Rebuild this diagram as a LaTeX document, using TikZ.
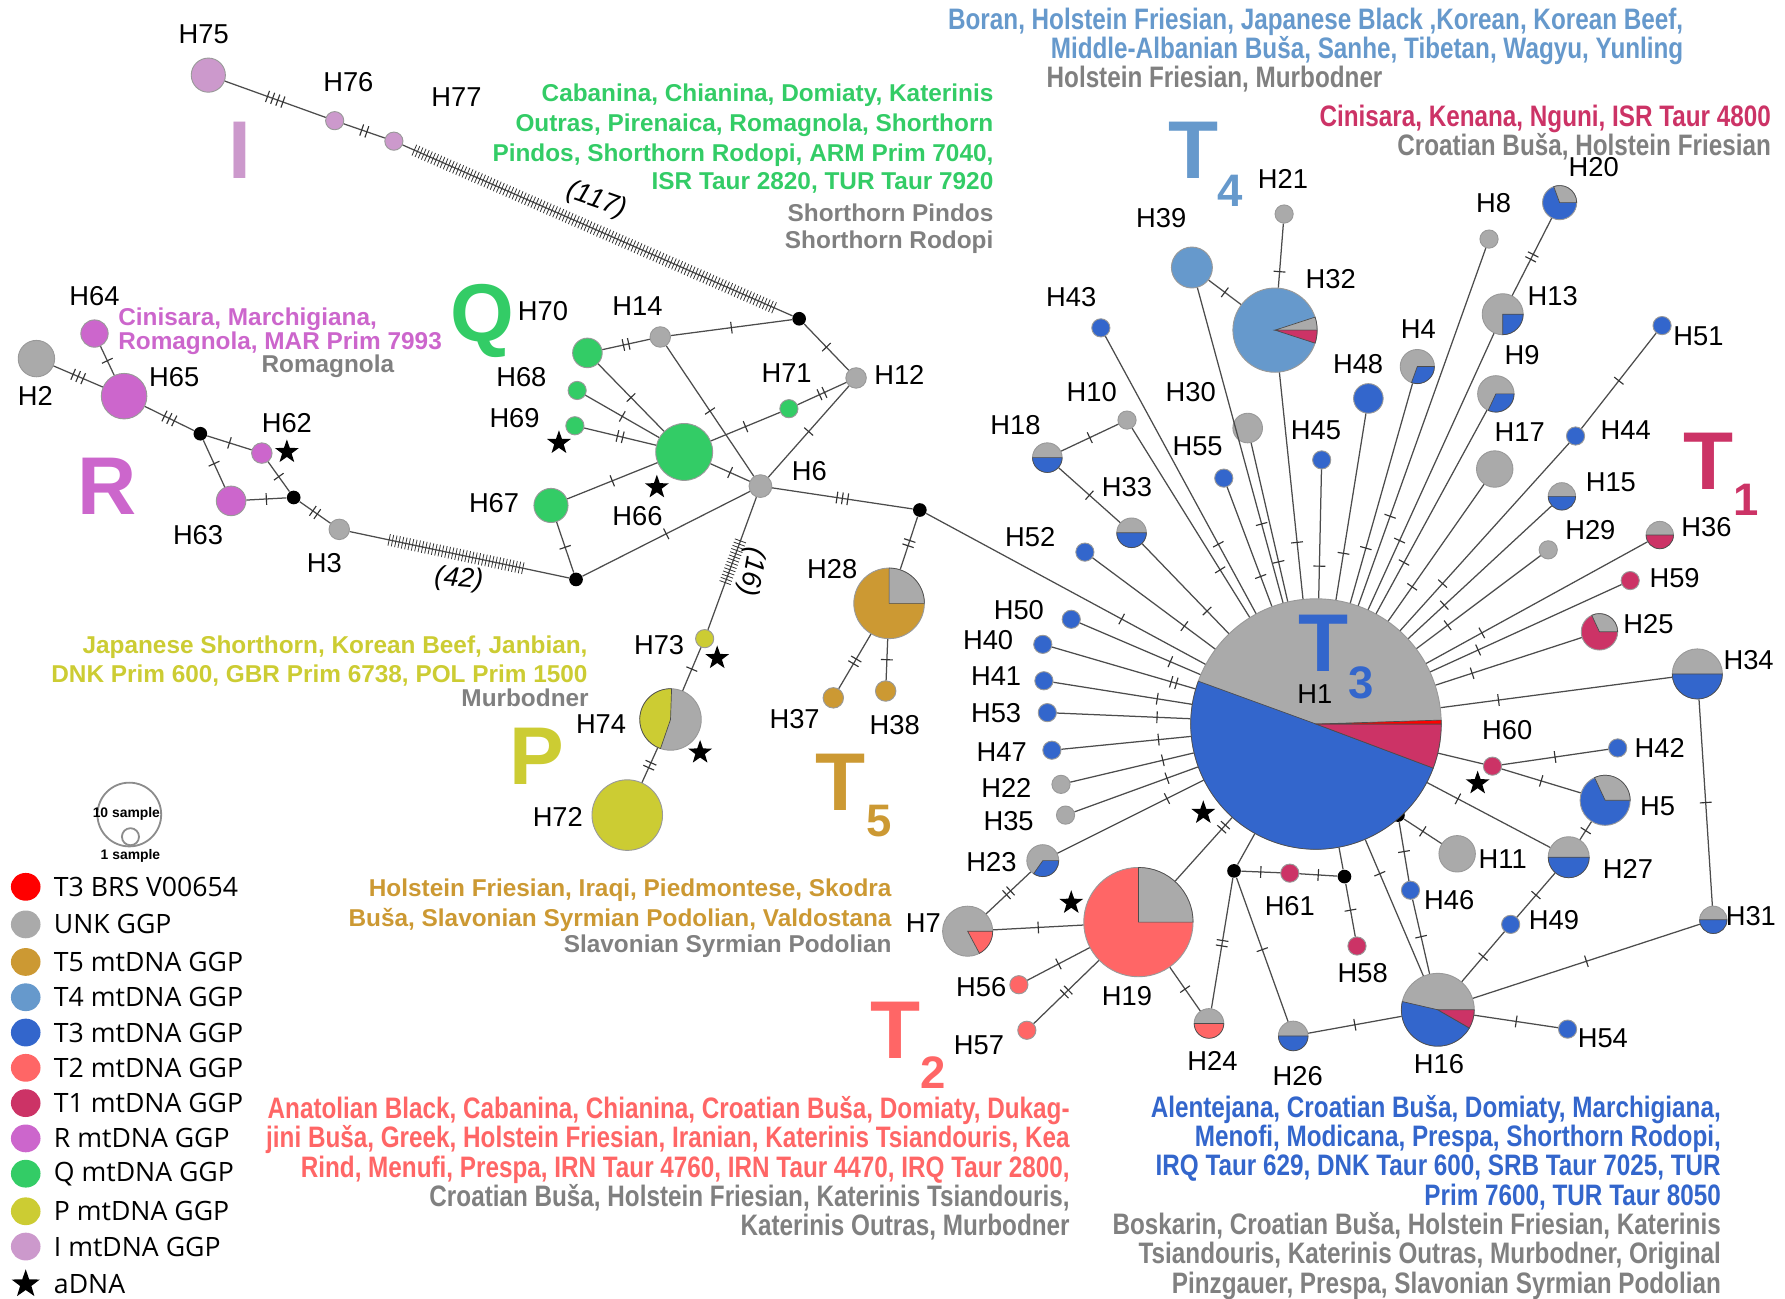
\documentclass[tikz,border=0pt]{standalone}
\usepackage{fontspec}
\setmainfont{Liberation Sans}
\newfontfamily\narrowfont{Liberation Sans}[FakeStretch=0.82]
\newfontfamily\legfont{Open Sans}
\usepackage{tikz}
\usetikzlibrary{shapes,arrows,positioning,decorations.markings}

\definecolor{unk}{HTML}{AAAAAA}
\definecolor{brs}{HTML}{FF0000}
\definecolor{tfive}{HTML}{CC9933}
\definecolor{tfour}{HTML}{6699CC}
\definecolor{tthree}{HTML}{3366CC}
\definecolor{ttwo}{HTML}{FF6666}
\definecolor{tone}{HTML}{CC3366}
\definecolor{hgR}{HTML}{CC66CC}
\definecolor{hgQ}{HTML}{33CC66}
\definecolor{hgP}{HTML}{CCCC33}
\definecolor{hgI}{HTML}{CC99CC}
\definecolor{txtgray}{HTML}{808080}

\tikzset{
  hap/.style={circle,draw=black!40,line width=.4pt,inner sep=0pt},
  med/.style={circle,fill=black,inner sep=0pt,minimum size=6pt},
  adna/.style={star,star points=5,star point ratio=2.5,fill=black,inner sep=0pt,minimum size=11pt},
  link/.style={draw=black!70,line width=.55pt},
  tk/.style 2 args={postaction={decorate,decoration={markings,
      mark=at position #2 with {\foreach \k in {1,...,#1}{\draw[line width=.5pt,black!80] ({(\k-(#1+1)/2)*2.4pt},-2.6pt) -- ++(0,5.2pt);}}}}},
  mut/.style={tk={#1}{.5}},
  mut/.default=1,
  hatch/.style 2 args={postaction={decorate,decoration={markings,
      mark=between positions #1 and #2 step 1.5pt with {\draw[line width=.35pt,black!80] (0,-2.6pt) -- (0,2.6pt);}}}},
  lbl/.style={inner sep=0pt,font=\fontsize{12}{12}\selectfont},
  gap/.style={inner sep=0pt,font=\itshape\fontsize{12}{12}\selectfont},
  grp/.style={inner sep=0pt,font=\bfseries\fontsize{36}{36}\selectfont},
  sub/.style={inner sep=0pt,font=\bfseries\fontsize{20}{20}\selectfont},
  brd/.style={inner sep=0pt,align=right,font=\bfseries\fontsize{10.7}{12.9}\selectfont},
  brdn/.style={inner sep=0pt,align=right,font=\narrowfont\bfseries\fontsize{13}{12.9}\selectfont},
  leg/.style={ellipse,inner sep=0pt,minimum width=13pt,minimum height=12.2pt},
  legtxt/.style={inner sep=0pt,anchor=west,font=\legfont\fontsize{11.7}{11.7}\selectfont},
}

\newcommand{\hp}[5]{\node (#1) [hap,fill=#5,minimum size=#4pt] at (#2,-#3) {};}
\newcommand{\pieslice}[5]{\fill[#5,draw=black!70,line width=.3pt] (#1.center) -- ++(#3:#2) arc[start angle=#3,end angle=#4,radius=#2] -- cycle;}
\newcommand{\lab}[3]{\node (l#1) [lbl] at (#2,-#3) {#1};}

\begin{document}
\begin{tikzpicture}[x=0.5pt,y=0.5pt]
  \useasboundingbox (0,0) rectangle (1568,-1141);

  % I
  \hp{H75}{183}{66}{15}{hgI}
  \hp{H76}{294}{106}{8}{hgI}
  \hp{H77}{346}{124}{8}{hgI}
  % R
  \hp{H64}{83}{293}{12}{hgR}
  \hp{H2}{32}{315}{16}{unk}
  \hp{H65}{109}{348}{20}{hgR}
  \node (d1) [med] at (176,-381) {};
  \hp{H62}{230}{398}{9}{hgR}
  \hp{H63}{203}{440}{13}{hgR}
  \node (d2) [med] at (258,-437) {};
  \hp{H3}{298}{465}{9}{unk}
  \node (d3) [med] at (506,-509) {};
  % Q
  \hp{H70}{516}{310}{13}{hgQ}
  \hp{H68}{507}{343}{8}{hgQ}
  \hp{H69}{505}{374}{8}{hgQ}
  \hp{H66}{601}{397}{25}{hgQ}
  \hp{H67}{484}{444}{15}{hgQ}
  \hp{H71}{693}{359}{8}{hgQ}
  \hp{H14}{580}{296}{9}{unk}
  \hp{H12}{752}{332}{9}{unk}
  \node (d4) [med] at (702,-280) {};
  \hp{H6}{668}{427}{10}{unk}
  \node (d5) [med] at (808,-448) {};
  % P
  \hp{H73}{619}{561}{8}{hgP}
  \hp{H74}{589}{632}{27}{unk}
  \hp{H72}{551}{716}{31}{hgP}
  % T5
  \hp{H28}{781}{530}{31}{tfive}
  \hp{H37}{732}{613}{9}{tfive}
  \hp{H38}{778}{607}{9}{tfive}
  % T1-T4
  \hp{H1}{1156}{636}{110}{unk}
  \hp{H43}{967}{288}{8}{tthree}
  \hp{H39}{1047}{235}{18}{tfour}
  \hp{H21}{1128}{188}{8}{unk}
  \hp{H32}{1120}{290}{37}{tfour}
  \hp{H10}{990}{369}{8}{unk}
  \hp{H18}{920}{402}{13}{unk}
  \hp{H30}{1096}{376}{13}{unk}
  \hp{H48}{1202}{350}{13}{tthree}
  \hp{H4}{1245}{322}{15}{unk}
  \hp{H8}{1308}{210}{8}{unk}
  \hp{H20}{1370}{178}{15}{tthree}
  \hp{H13}{1320}{276}{18}{unk}
  \hp{H9}{1314}{346}{16}{unk}
  \hp{H51}{1460}{286}{8}{tthree}
  \hp{H45}{1161}{404}{8}{tthree}
  \hp{H55}{1075}{420}{8}{tthree}
  \hp{H33}{994}{468}{13}{unk}
  \hp{H17}{1313}{412}{16}{unk}
  \hp{H44}{1384}{383}{8}{tthree}
  \hp{H15}{1372}{436}{12}{unk}
  \hp{H29}{1360}{483}{8}{unk}
  \hp{H36}{1458}{470}{12}{unk}
  \hp{H52}{953}{485}{8}{tthree}
  \hp{H59}{1432}{510}{8}{tone}
  \hp{H25}{1405}{555}{16}{tone}
  \hp{H34}{1491}{592}{22}{unk}
  \hp{H50}{941}{544}{8}{tthree}
  \hp{H40}{916}{566}{8}{tthree}
  \hp{H41}{917}{598}{8}{tthree}
  \hp{H53}{920}{626}{8}{tthree}
  \hp{H47}{924}{659}{8}{tthree}
  \hp{H22}{932}{689}{8}{unk}
  \hp{H35}{936}{716}{8}{unk}
  \hp{H23}{916}{756}{14}{unk}
  \hp{H7}{850}{818}{22}{unk}
  \hp{H19}{1000}{810}{48}{ttwo}
  \hp{H56}{895}{865}{8}{ttwo}
  \hp{H57}{902}{905}{8}{ttwo}
  \hp{H24}{1062}{899}{13}{unk}
  \hp{H26}{1136}{910}{13}{unk}
  \hp{H16}{1263}{887}{32}{unk}
  \hp{H54}{1377}{904}{8}{tthree}
  \hp{H60}{1311}{673}{8}{tone}
  \hp{H42}{1421}{657}{8}{tthree}
  \hp{H5}{1410}{703}{22}{tthree}
  \hp{H11}{1280}{750}{16}{unk}
  \hp{H27}{1378}{753}{18}{unk}
  \hp{H31}{1505}{808}{12}{unk}
  \hp{H46}{1239}{782}{8}{tthree}
  \hp{H49}{1327}{812}{8}{tthree}
  \hp{H61}{1133}{767}{8}{tone}
  \hp{H58}{1192}{831}{8}{tone}
  \node (d6) [med] at (1228,-716) {};
  \node (d7) [med] at (1084,-765) {};
  \node (d8) [med] at (1181,-770) {};

  % pies
  \pieslice{H1}{110}{160}{339.4}{tthree}
  \pieslice{H1}{110}{339.4}{360}{tone}
  \pieslice{H1}{110}{0}{1.8}{brs}
  \pieslice{H32}{37}{0}{18}{unk}
  \pieslice{H32}{37}{-18}{0}{tone}
  \pieslice{H20}{15}{0}{110}{unk}
  \pieslice{H13}{18}{270}{360}{tthree}
  \pieslice{H4}{15}{250}{360}{tthree}
  \pieslice{H9}{16}{245}{360}{tthree}
  \foreach \h/\r in {H18/13,H33/13,H15/12,H34/22,H27/18,H31/12,H26/13}
    \pieslice{\h}{\r}{180}{360}{tthree};
  \pieslice{H36}{12}{180}{360}{tone}
  \pieslice{H24}{13}{180}{360}{ttwo}
  \pieslice{H25}{16}{0}{115}{unk}
  \pieslice{H5}{22}{0}{115}{unk}
  \pieslice{H23}{14}{235}{360}{tthree}
  \pieslice{H7}{22}{298}{360}{ttwo}
  \pieslice{H19}{48}{0}{90}{unk}
  \pieslice{H16}{32}{167}{330}{tthree}
  \pieslice{H16}{32}{330}{360}{tone}
  \pieslice{H28}{31}{0}{90}{unk}
  \pieslice{H74}{27}{88}{251}{hgP}

  % links
  \draw[link,mut=4] (H75) -- (H76);
  \draw[link,mut=2] (H76) -- (H77);
  \draw[link,hatch={.03}{.96}] (H77) -- (d4);
  \draw[link,mut=3] (H2) -- (H65);
  \draw[link,mut] (H64) -- (H65);
  \draw[link,mut=3] (H65) -- (d1);
  \draw[link,mut] (d1) -- (H62);
  \draw[link,mut] (d1) -- (H63);
  \draw[link,mut] (H62) -- (d2);
  \draw[link,mut] (H63) -- (d2);
  \draw[link,mut=2] (d2) -- (H3);
  \draw[link,hatch={.18}{.79}] (H3) -- (d3);
  \draw[link,mut=2] (H70) -- (H14);
  \draw[link,mut] (H14) -- (d4);
  \draw[link,mut] (d4) -- (H12);
  \draw[link,mut=2] (H12) -- (H71);
  \draw[link,mut] (H71) -- (H66);
  \foreach \s/\n in {H70/1,H68/1,H69/2,H67/1}
    \draw[link,mut=\n] (\s) -- (H66);
  \draw[link,mut] (H66) -- (H6);
  \draw[link,mut] (H14) -- (H6);
  \draw[link,mut] (H12) -- (H6);
  \draw[link,mut] (H67) -- (d3);
  \draw[link,mut] (d3) -- (H6);
  \draw[link,mut=3] (H6) -- (d5);
  \draw[link,hatch={.33}{.66}] (H6) -- (H73);
  \draw[link,mut] (H73) -- (H74);
  \draw[link,mut=2] (H74) -- (H72);
  \draw[link,mut=2] (d5) -- (H28);
  \draw[link,mut=2] (H28) -- (H37);
  \draw[link,mut] (H28) -- (H38);
  \draw[link,tk={1}{.7}] (d5) -- (H1);

  \foreach \s in {H43,H39,H32,H10,H30,H55,H45,H48,H4,H8,H13,H9,H17,H44,H15,H29,H36,H59,H25,H34,H52,H33,H50,H41,H53,H47,H22,H35,H23,H27,H16}
    \draw[link,tk={1}{.75}] (\s) -- (H1);
  \draw[link,tk={2}{.85}] (H40) -- (H1);
  \draw[link,tk={2}{.85}] (H19) -- (H1);
  \draw[link] (H60) -- (H1);
  \draw[link] (d7) -- (H1);
  \draw[link] (d8) -- (H1);
  \draw[link,mut] (H39) -- (H32);
  \draw[link,tk={1}{.75}] (H21) -- (H32);
  \draw[link,mut] (H18) -- (H10);
  \draw[link,mut] (H18) -- (H33);
  \draw[link,mut=2] (H20) -- (H13);
  \draw[link,mut] (H51) -- (H44);
  \draw[link,mut] (H34) -- (H31);
  \draw[link,mut] (H31) -- (H16);
  \draw[link,mut] (H60) -- (H42);
  \draw[link,mut] (H60) -- (H5);
  \draw[link,mut] (H27) -- (H5);
  \draw[link,mut] (H27) -- (H49);
  \draw[link,mut] (H49) -- (H16);
  \draw[link,mut] (d6) -- (H11);
  \draw[link,mut] (d6) -- (H46);
  \draw[link,mut] (H46) -- (H16);
  \draw[link,mut] (d7) -- (H61);
  \draw[link,mut] (H61) -- (d8);
  \draw[link,mut] (d8) -- (H58);
  \draw[link,mut] (d7) -- (H26);
  \draw[link,mut=2] (d7) -- (H24);
  \draw[link,mut] (H26) -- (H16);
  \draw[link,mut] (H16) -- (H54);
  \draw[link,mut] (H19) -- (H24);
  \draw[link,mut] (H7) -- (H19);
  \draw[link,mut=2] (H23) -- (H7);
  \draw[link,mut] (H19) -- (H56);
  \draw[link,mut=2] (H19) -- (H57);

  % aDNA
  \foreach \x/\y [count=\i] in {252/397,491/389,577/428,630/578,615/661,941/793,1057/714,1298/688}
    \node (s\i) [adna] at (\x,-\y) {};

  % mutation counts
  \node (g117) [gap,rotate=-19] at (524,-176) {(117)};
  \node (g42) [gap,rotate=-5] at (403,-509) {(42)};
  \node (g16) [gap,rotate=-100] at (660,-502) {(16)};

  % haplotype labels
  \lab{H75}{179}{30} \lab{H76}{306}{72} \lab{H77}{401}{85}
  \lab{H64}{83}{260} \lab{H2}{31}{348} \lab{H65}{153}{331} \lab{H62}{252}{372} \lab{H63}{174}{470} \lab{H3}{285}{495}
  \lab{H70}{477}{273} \lab{H14}{560}{269} \lab{H68}{458}{331} \lab{H69}{452}{367} \lab{H67}{434}{442} \lab{H66}{560}{453}
  \lab{H71}{691}{328} \lab{H12}{790}{329} \lab{H6}{711}{414}
  \lab{H73}{579}{567} \lab{H74}{528}{636} \lab{H72}{490}{718}
  \lab{H28}{731}{500} \lab{H37}{698}{632} \lab{H38}{786}{637}
  \lab{H1}{1155}{610}
  \lab{H43}{941}{261} \lab{H39}{1020}{192} \lab{H21}{1127}{157} \lab{H32}{1169}{245} \lab{H10}{959}{344} \lab{H30}{1046}{344}
  \lab{H48}{1193}{320} \lab{H4}{1246}{289} \lab{H8}{1312}{178} \lab{H20}{1400}{147} \lab{H13}{1364}{260} \lab{H9}{1337}{312}
  \lab{H51}{1492}{295} \lab{H18}{892}{373} \lab{H55}{1052}{392} \lab{H45}{1156}{378} \lab{H33}{990}{428} \lab{H17}{1335}{380}
  \lab{H44}{1428}{378} \lab{H15}{1415}{424} \lab{H52}{905}{472}
  \lab{H29}{1397}{466} \lab{H36}{1499}{463} \lab{H59}{1471}{508} \lab{H25}{1448}{548} \lab{H34}{1536}{580}
  \lab{H50}{895}{536} \lab{H40}{868}{562} \lab{H41}{875}{594} \lab{H53}{875}{626} \lab{H47}{880}{661} \lab{H22}{884}{692}
  \lab{H35}{886}{721} \lab{H23}{871}{757} \lab{H7}{811}{811} \lab{H56}{862}{867} \lab{H57}{860}{918} \lab{H19}{990}{875}
  \lab{H60}{1324}{641} \lab{H42}{1458}{657} \lab{H5}{1456}{708} \lab{H11}{1320}{755} \lab{H27}{1430}{763} \lab{H31}{1538}{805}
  \lab{H46}{1273}{791} \lab{H49}{1365}{808} \lab{H61}{1133}{796} \lab{H58}{1197}{855} \lab{H16}{1264}{935} \lab{H54}{1408}{912}
  \lab{H26}{1140}{945} \lab{H24}{1065}{932}

  % haplogroups
  \node (gI) [grp,text=hgI] at (211,-132) {I};
  \node (gR) [grp,text=hgR] at (94,-427) {R};
  \node (gQ) [grp,text=hgQ] at (424,-282) {Q};
  \node (gP) [grp,text=hgP] at (472,-664) {P};
  \node (gT4) [grp,text=tfour] at (1048,-132) {T};
  \node (gT4n) [sub,text=tfour] at (1081,-168) {4};
  \node (gT1) [grp,text=tone] at (1501,-405) {T};
  \node (gT1n) [sub,text=tone] at (1534,-439) {1};
  \node (gT5) [grp,text=tfive] at (738,-687) {T};
  \node (gT5n) [sub,text=tfive] at (772,-721) {5};
  \node (gT2) [grp,text=ttwo] at (787,-905) {T};
  \node (gT2n) [sub,text=ttwo] at (820,-942) {2};
  \node (gT3) [grp,text=tthree] at (1163,-565) {T};
  \node (gT3n) [sub,text=tthree] at (1196,-600) {3};

  % breeds
  \foreach \t/\c/\y [count=\i] in {{Cabanina, Chianina, Domiaty, Katerinis}/hgQ/84,
      {Outras, Pirenaica, Romagnola, Shorthorn}/hgQ/110,
      {Pindos, Shorthorn Rodopi, ARM Prim 7040,}/hgQ/136,
      {ISR Taur 2820, TUR Taur 7920}/hgQ/161,
      {Shorthorn Pindos}/txtgray/187,
      {Shorthorn Rodopi}/txtgray/213}
    \node (bQ\i) [brd,text=\c,anchor=east] at (873,-\y) {\t};
  \node (bR) [brd,text=hgR,align=left,anchor=north west,font=\bfseries\fontsize{10.7}{10.5}\selectfont] at (103.5,-270) {Cinisara, Marchigiana,\\Romagnola, MAR Prim 7993};
  \node (bRu) [brd,text=txtgray] at (288,-321.5) {Romagnola};
  \node (bP) [brd,text=hgP,anchor=north east,font=\bfseries\fontsize{10.7}{12.7}\selectfont] at (516.5,-558) {Japanese Shorthorn, Korean Beef, Janbian,\\DNK Prim 600, GBR Prim 6738, POL Prim 1500};
  \node (bPu) [brd,text=txtgray,anchor=east] at (517.5,-613) {Murbodner};
  \node (bT5) [brd,text=tfive,anchor=north east] at (783.5,-772) {Holstein Friesian, Iraqi, Piedmontese, Skodra\\Buša, Slavonian Syrmian Podolian, Valdostana};
  \node (bT5u) [brd,text=txtgray,anchor=east] at (783.5,-831) {Slavonian Syrmian Podolian};
  \node (bT4) [brdn,text=tfour,anchor=north east] at (1479,-6.5) {Boran, Holstein Friesian, Japanese Black ,Korean, Korean Beef,\\Middle-Albanian Buša, Sanhe, Tibetan, Wagyu, Yunling};
  \node (bT4u) [brdn,text=txtgray,anchor=north west] at (919,-58) {Holstein Friesian, Murbodner};
  \node (bT1) [brdn,text=tone,anchor=north east] at (1556,-91.5) {Cinisara, Kenana, Nguni, ISR Taur 4800\\\textcolor{txtgray}{Croatian Buša, Holstein Friesian}};
  \node (bT2) [brdn,text=ttwo,anchor=north east] at (940,-962.5) {Anatolian Black, Cabanina, Chianina, Croatian Buša, Domiaty, Dukag-\\jini Buša, Greek, Holstein Friesian, Iranian, Katerinis Tsiandouris, Kea\\Rind, Menufi, Prespa, IRN Taur 4760, IRN Taur 4470, IRQ Taur 2800,\\\textcolor{txtgray}{Croatian Buša, Holstein Friesian, Katerinis Tsiandouris,}\\\textcolor{txtgray}{Katerinis Outras, Murbodner}};
  \node (bT3) [brdn,text=tthree,anchor=north east] at (1512,-961.5) {Alentejana, Croatian Buša, Domiaty, Marchigiana,\\Menofi, Modicana, Prespa, Shorthorn Rodopi,\\IRQ Taur 629, DNK Taur 600, SRB Taur 7025, TUR\\Prim 7600, TUR Taur 8050\\\textcolor{txtgray}{Boskarin, Croatian Buša, Holstein Friesian, Katerinis}\\\textcolor{txtgray}{Tsiandouris, Katerinis Outras, Murbodner, Original}\\\textcolor{txtgray}{Pinzgauer, Prespa, Slavonian Syrmian Podolian}};

  % legend
  \node (sz10) [circle,draw=black!45,line width=.8pt,inner sep=0pt,minimum size=28pt] at (113.6,-715.5) {};
  \node (sz1) [circle,draw=black!45,line width=.8pt,inner sep=0pt,minimum size=7.5pt] at (114.6,-735) {};
  \node (sz10t) [inner sep=0pt,font=\bfseries\fontsize{6.1}{6.1}\selectfont] at (111,-714.6) {10 sample};
  \node (sz1t) [inner sep=0pt,font=\bfseries\fontsize{6.1}{6.1}\selectfont] at (114.6,-752) {1 sample};
  \foreach \c/\t/\y [count=\i] in {brs/T3 BRS V00654/779,unk/UNK GGP/812,tfive/T5 mtDNA GGP/845,tfour/T4 mtDNA GGP/876,
      tthree/T3 mtDNA GGP/907,ttwo/T2 mtDNA GGP/938,tone/T1 mtDNA GGP/969,hgR/R mtDNA GGP/1000,
      hgQ/Q mtDNA GGP/1031,hgP/P mtDNA GGP/1064,hgI/I mtDNA GGP/1095} {
    \node (k\i) [leg,fill=\c] at (22.6,-\y) {};
    \node (kt\i) [legtxt] at (47,-\y) {\t};
  }
  \node (kstar) [adna,minimum size=13pt] at (22.6,-1128) {};
  \node (kstart) [legtxt] at (47,-1128) {aDNA};
\end{tikzpicture}
\end{document}
